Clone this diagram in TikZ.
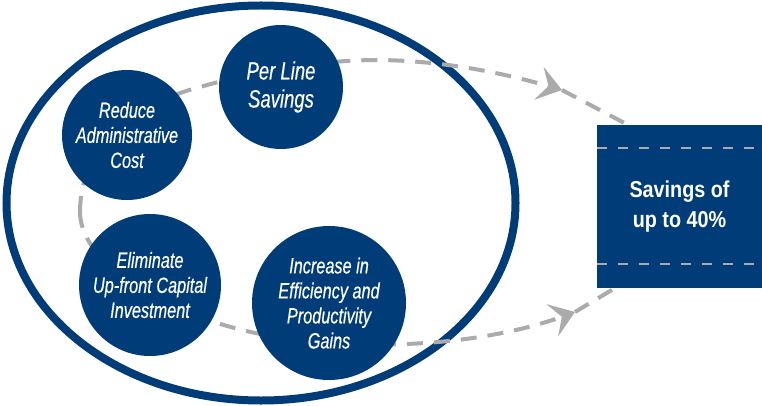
\documentclass[tikz,border=0pt]{standalone}
\usepackage{fontspec}
\setmainfont{Liberation Sans}[FakeStretch=0.74,FakeBold=0.4]
\newfontfamily\boxfont{Liberation Sans}[FakeStretch=0.86]
\usetikzlibrary{arrows.meta,shapes.geometric,positioning}
\definecolor{navy}{HTML}{003C78}
\definecolor{dashgray}{HTML}{ABABAB}
\tikzset{
  basic/.style      = {circle, fill=navy, text=white, align=center, inner sep=0pt},
  benefit/.style    = {basic, font=\fontsize{22}{25}\selectfont\itshape},
  big benefit/.style= {basic, font=\fontsize{25}{28}\selectfont\itshape},
  result/.style     = {rectangle, fill=navy, text=white, align=center,
                       font=\boxfont\bfseries\fontsize{23}{30}\selectfont,
                       minimum width=165pt, minimum height=163pt},
  rim/.style        = {ellipse, draw=navy, line width=8pt, inner sep=0pt},
  flow/.style       = {draw=dashgray, line width=4pt, dash pattern=on 16pt off 11pt},
  flow tip/.style   = {-{Stealth[length=24pt,width=34pt,inset=10pt]}},
  boxdash/.style    = {draw=dashgray, line width=2.5pt, dash pattern=on 10pt off 11pt}
}

\begin{document}
\begin{tikzpicture}[x=1pt,y=-1pt]
\useasboundingbox (0,0) rectangle (762,406);

% the big frame and the result box
\node[rim, minimum width=509pt, minimum height=395pt] (frame) at (261,203) {};
\node[result] (saving) at (679.5,206.5) {Savings of\\up to 40\%};

% dashed flow around the benefits, splitting into two arrows
\coordinate (loop) at (80,212);
\coordinate (uptip) at (562,90);
\coordinate (downtip) at (575,312);

\draw[flow, flow tip] (loop) .. controls (80,150) and (130,105) .. (200,87)
  .. controls (260,70) and (320,60) .. (380,60)
  .. controls (450,61) and (510,75) .. (uptip);
\draw[flow, flow tip] (loop) .. controls (80,270) and (190,335) .. (330,343)
  .. controls (440,350) and (520,332) .. (downtip);
\draw[flow] (uptip) -- ([xshift=31pt]saving.north west);
\draw[flow] (downtip) -- ([xshift=18pt]saving.south west);

% the benefits
\node[benefit, minimum size=130pt] (reduce) at (127,135) {Reduce\\Administrative\\Cost};
\node[big benefit, minimum size=124pt] (perline) at (281,87) {Per Line\\Savings};
\node[benefit, minimum size=142pt] (eliminate) at (150,285) {Eliminate\\Up-front Capital\\Investment};
\node[benefit, minimum size=154pt] (increase) at (329,303) {Increase in\\Efficiency and\\Productivity\\Gains};

% dashed rules in the result box
\foreach \side/\off in {north/-23pt,south/24pt}
  \draw[boxdash] ([yshift=\off]saving.\side\space west) -- ([yshift=\off]saving.\side\space east);
\end{tikzpicture}
\end{document}
